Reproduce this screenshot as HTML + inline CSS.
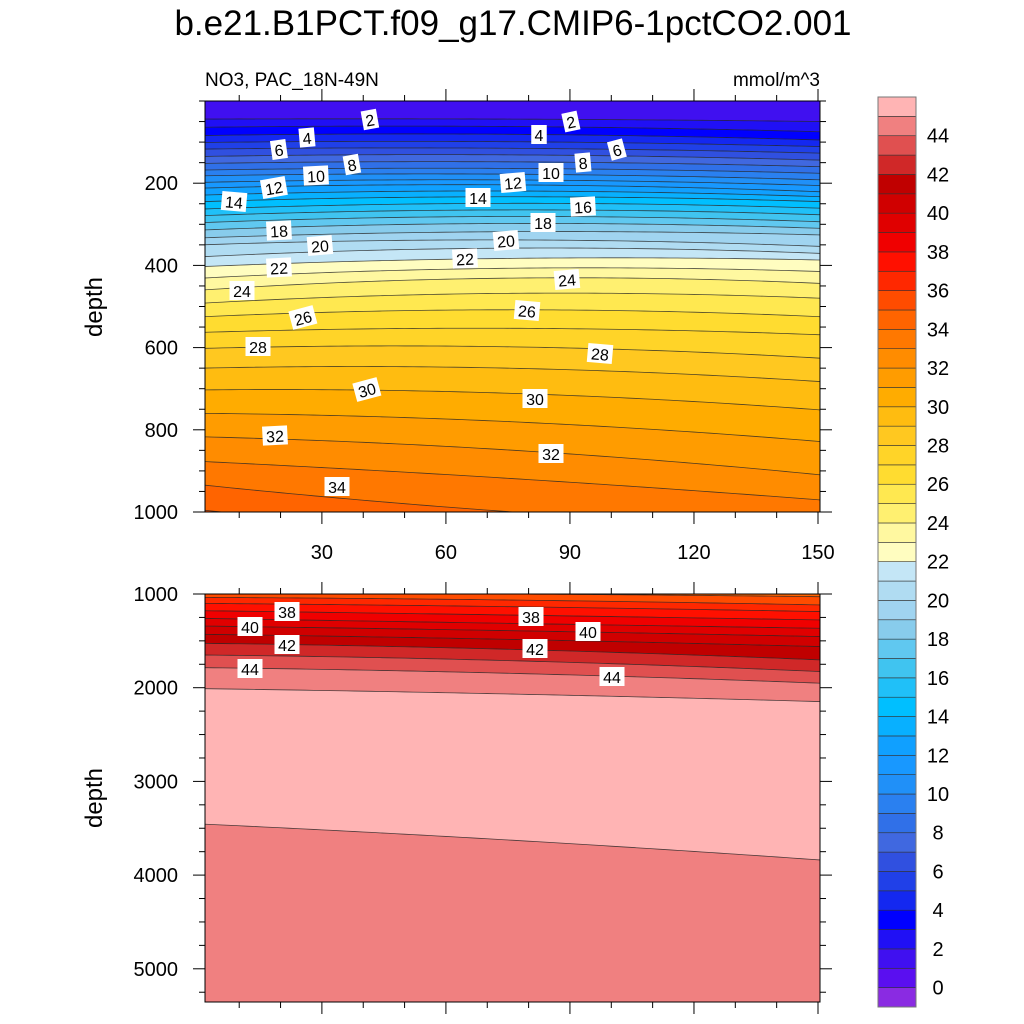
<!DOCTYPE html>
<html><head><meta charset="utf-8">
<style>
body{margin:0;background:#fff;width:1024px;height:1024px;overflow:hidden;font-family:"Liberation Sans",sans-serif;}
svg{position:absolute;left:0;top:0}
text{font-family:"Liberation Sans",sans-serif;fill:#000}
</style></head>
<body>
<svg id="chart" width="1024" height="1024" viewBox="0 0 1024 1024">
<text x="513" y="35" font-size="35" text-anchor="middle">b.e21.B1PCT.f09_g17.CMIP6-1pctCO2.001</text>
<text x="205" y="86" font-size="19">NO3, PAC_18N-49N</text>
<text x="820" y="86" font-size="19" text-anchor="end">mmol/m^3</text>
<text transform="translate(102,307) rotate(-90)" font-size="24" text-anchor="middle">depth</text>
<text transform="translate(102,798) rotate(-90)" font-size="24" text-anchor="middle">depth</text>
<defs>
<clipPath id="clipTop"><rect x="205" y="101" width="615" height="411"/></clipPath>
<clipPath id="clipBot"><rect x="205" y="594" width="615" height="408"/></clipPath>
</defs>
<g id="topFill" clip-path="url(#clipTop)"></g>
<g id="botFill" clip-path="url(#clipBot)"></g>
<g id="axes"></g>
<g id="labels"></g>
<g id="cbar"></g>
</svg>
<script>
// ---- data ----
const years = [1, 75, 151];
const topLevels = [2,3,4,5,6,7,8,9,10,11,12,13,14,15,16,17,18,19,20,21,22,23,24,25,26,27,28,29,30,31,32,33,34,35];
const topDepthLeft  = [44,64,84,101,117,135,152,168,182,198,212,229,245,263,279,296,314,333,350,379,403,431,460,492,525,563,602,650,703,760,817,877,934,995];
const topDepthMid   = [44,62,81,99,115,131,148,164,178,192,204,219,233,249,265,281,298,318,338,358,383,407,431,468,508,553,598,650,711,780,849,918,999,1060];
const topDepthRight = [50,75,95,111,127,144,160,176,192,206,221,233,245,261,277,294,310,326,354,371,387,415,444,480,525,569,626,683,752,829,910,971,1040,1100];
const botLevels = [35,36,37,38,39,40,41,42,43,44,45];
const botDepthLeft  = [990,1036,1100,1178,1260,1342,1430,1526,1651,1786,2010];
const botDepthMid   = [1000,1064,1135,1224,1313,1391,1484,1590,1711,1846,2067];
const botDepthRight = [1029,1117,1188,1277,1366,1455,1562,1704,1829,1953,2149];
const deepReturnDepth = [3455,3625,3840]; // 45 isoline where values drop back below 45
const cbarLabels = [0,2,4,6,8,10,12,14,16,18,20,22,24,26,28,30,32,34,36,38,40,42,44];
const bandColors = ["#8a2be2","#5a0ff0","#4010f0","#2010f5","#0000ff","#1428f0","#2040e8","#3050e0","#4068e0","#3070e8","#2a80f0","#2090f8","#1898ff","#10a0ff","#08b0ff","#00bfff","#20c0f8","#40c4f0","#60c8f0","#88ccec","#a0d4f0","#b0dcf2","#c4e6f6","#fffdc0","#fff8a0","#fff070","#ffe850","#ffdc30","#ffd428","#ffc820","#ffbc10","#ffac00","#ff9c00","#ff8c00","#ff7800","#ff6400","#ff4c00","#ff2800","#ff1000","#f00000","#e00000","#d00000","#c00000","#d02828","#e05050","#f08080","#ffb4b4"];
const topLabels = [["2",370,120,-10],["4",307,138,-5],["6",279,150,-8],["8",352,165,-10],["10",316,176,-3],["12",274,188,-10],["14",234,202,5],["18",279,231,-3],["20",320,246,-5],["22",279,268,-3],["24",242,291,0],["26",303,318,-15],["28",258,347,0],["30",367,390,-15],["32",275,436,-3],["34",337,487,0],
 ["2",571,122,-12],["4",539,135,0],["6",617,150,-15],["8",583,163,-5],["10",551,173,0],["12",513,183,-5],["14",478,198,0],["16",583,207,-3],["18",543,223,0],["20",506,241,-5],["22",465,259,-3],["24",567,280,-5],["26",527,311,5],["28",600,354,5],["30",535,399,0],["32",551,454,0]];
const botLabels = [["38",287,612],["40",250,627],["42",287,645],["44",250,669],["38",531,617],["40",588,632],["42",535,649],["44",612,677]];

const NS="http://www.w3.org/2000/svg";
function el(tag,attrs,parent){const e=document.createElementNS(NS,tag);for(const k in attrs)e.setAttribute(k,attrs[k]);parent.appendChild(e);return e;}
const X0=205,X1=820;
function xs(yr){return 202+(yr-1)*(616/149);}
function ysTop(d){return 101+d*0.411;}
function ysBot(d){return 594+(d-1000)*0.0937;}
function interp(vals,yr){const[a,b,c]=years;const[p,q,r]=vals;
 return p*(yr-b)*(yr-c)/((a-b)*(a-c))+q*(yr-a)*(yr-c)/((b-a)*(b-c))+r*(yr-a)*(yr-b)/((c-a)*(c-b));}
const sampleYears=[];for(let y=0;y<=152;y+=2)sampleYears.push(y);
function linePts(vals,ys){return sampleYears.map(yr=>[xs(yr),ys(interp(vals,yr))]);}
function drawPanel(g,levels,L,M,R,ys,topY,botY,extra){
 const lines=levels.map((lv,i)=>linePts([L[i],M[i],R[i]],ys));
 const topLine=sampleYears.map(yr=>[xs(yr),topY-5]);
 const botLine=sampleYears.map(yr=>[xs(yr),botY+5]);
 const bounds=[topLine,...lines];
 const colorIdx=[levels[0],...levels.map(l=>l+1)];
 for(let i=0;i<bounds.length;i++){
  const upper=bounds[i];const lower=(i+1<bounds.length)?bounds[i+1]:botLine;
  const pts=upper.concat(lower.slice().reverse());
  const p=el('polygon',{points:pts.map(p=>p.join(',')).join(' '),fill:bandColors[colorIdx[i]]},g);
  
  
 }
 if(extra){const eline=linePts(extra,ys);const pts=eline.concat(botLine.slice().reverse());
  const p=el('polygon',{points:pts.map(p=>p.join(',')).join(' '),fill:bandColors[45]},g);
  
  
  lines.push(eline);}
 lines.forEach(l=>{const pl=el('polyline',{points:l.map(p=>p.join(',')).join(' '),fill:'none',stroke:'#222','stroke-width':'0.8','stroke-opacity':'0.8'},g);
  
  });
}
drawPanel(document.getElementById('topFill'),topLevels,topDepthLeft,topDepthMid,topDepthRight,ysTop,101,512,null);
drawPanel(document.getElementById('botFill'),botLevels,botDepthLeft,botDepthMid,botDepthRight,ysBot,594,1002,deepReturnDepth);

// axes
const ax=document.getElementById('axes');
function frame(y0,y1,name){const r=el('rect',{x:X0,y:y0,width:X1-X0,height:y1-y0,fill:'none',stroke:'#000','stroke-width':'1'},ax);
 
 }
frame(101,512,'top-panel-frame');frame(594,1002,'bottom-panel-frame');
function tk(x1,y1,x2,y2){el('line',{x1,y1,x2,y2,stroke:'#000','stroke-width':'1'},ax);}
for(let yr=10;yr<=150;yr+=10){const x=xs(yr);const major=yr%30===0;const L=major?12:6;
 tk(x,101,x,101-L);tk(x,512,x,512+L);tk(x,594,x,594-L);tk(x,1002,x,1002+L);
 if(major){const t=el('text',{x:x,y:559,'font-size':20,'text-anchor':'middle'},ax);t.textContent=yr;
  
  }}
for(let d=0;d<=1000;d+=50){const y=ysTop(d);const major=d%200===0&&d>0;const L=major?12:6;
 tk(X0,y,X0-L,y);tk(X1,y,X1+L,y);
 if(major){const t=el('text',{x:178,y:y+7,'font-size':20,'text-anchor':'end'},ax);t.textContent=d;
  
  }}
for(let d=1000;d<=5300;d+=250){const y=ysBot(d);const major=d%1000===0;const L=major?12:6;
 tk(X0,y,X0-L,y);tk(X1,y,X1+L,y);
 if(major){const t=el('text',{x:178,y:y+7,'font-size':20,'text-anchor':'end'},ax);t.textContent=d;
  
  }}

// contour labels
const lg=document.getElementById('labels');
function addLabel(txt,x,y,rot){const g=el('g',{transform:`translate(${x},${y}) rotate(${rot})`},lg);
 
 
 const w=txt.length*9.5+6;el('rect',{x:-w/2,y:-10,width:w,height:19,fill:'#fff'},g);
 const t=el('text',{x:0,y:6,'font-size':16,'text-anchor':'middle'},g);t.textContent=txt;}
topLabels.forEach(l=>addLabel(l[0],l[1],l[2],l[3]));
botLabels.forEach(l=>addLabel(l[0],l[1],l[2],0));

// colorbar
const cb=document.getElementById('cbar');
const cbTop=97,cbBot=1007,n=bandColors.length,h=(cbBot-cbTop)/n;
bandColors.forEach((c,i)=>{const r=el('rect',{x:878,y:cbBot-(i+1)*h,width:38,height:h,fill:c,stroke:'#333','stroke-width':'0.6'},cb);
 
 });
el('rect',{x:878,y:cbTop,width:38,height:cbBot-cbTop,fill:'none',stroke:'#777','stroke-width':'1'},cb);
cbarLabels.forEach(v=>{const y=cbBot-(v+1)*h;const t=el('text',{x:938,y:y+7,'font-size':20,'text-anchor':'middle'},cb);t.textContent=v;
 
 });
</script>
</body></html>
